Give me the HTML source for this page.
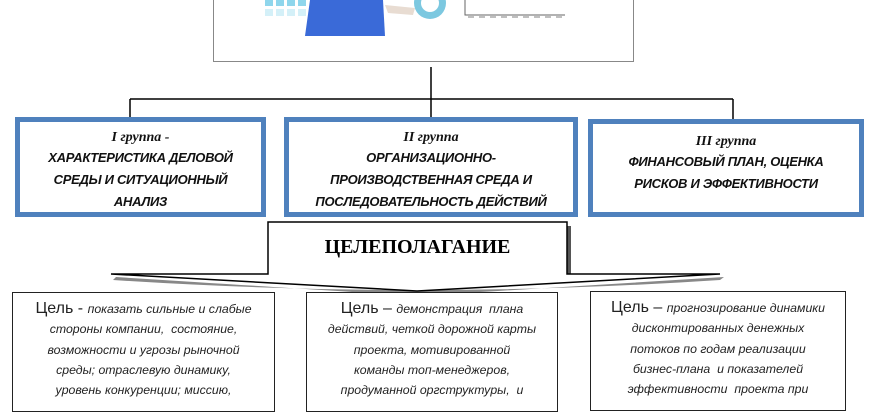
<!DOCTYPE html>
<html><head><meta charset="utf-8"><style>
body{margin:0;width:870px;height:400px;overflow:hidden;background:#fff;position:relative;font-family:"Liberation Sans",sans-serif}
.a{position:absolute;box-sizing:border-box}
.g{border:5px solid #4f81bd;background:#fff;text-align:center;color:#111}
.g .t{font-family:"Liberation Serif",serif;font-style:italic;font-weight:bold;font-size:14px;line-height:18px}
.g .b{font-style:italic;font-weight:bold;font-size:13px;line-height:22px;letter-spacing:-0.3px}
.c{border:1.5px solid #222;background:#fff;text-align:center;font-style:italic;font-size:12.3px;line-height:20.3px;color:#222;padding-top:6px;overflow:hidden}
.c span{font-style:normal;font-size:16px}
</style></head><body>
<div class="a" style="left:213px;top:-2px;width:421px;height:64px;border:1.5px solid #888"></div>
<svg class="a" style="left:0;top:0" width="870" height="400">
 <g fill="#8fd6ec"><rect x="265" y="0" width="8" height="6"/><rect x="276" y="0" width="8" height="6"/><rect x="287" y="0" width="8" height="6"/><rect x="298" y="0" width="8" height="6"/></g>
 <g fill="#d4f0f8"><rect x="265" y="9" width="8" height="7"/><rect x="276" y="9" width="8" height="7"/><rect x="287" y="9" width="8" height="7"/><rect x="298" y="9" width="8" height="7"/></g>
 <path d="M310,0 L383,0 L385,36 L305,36 Z" fill="#3a6ad8"/>
 <path d="M385,5 L415,8 L413,15 L388,13 Z" fill="#e8dcd2"/>
 <circle cx="430" cy="3" r="16" fill="#7cc8e0"/><circle cx="430" cy="3" r="9" fill="#fff"/>
 <path d="M465,0 V15 H565" fill="none" stroke="#666" stroke-width="1"/>
 <line x1="468" y1="17" x2="563" y2="17" stroke="#aaa" stroke-width="1.5" stroke-dasharray="6,5"/>
 <line x1="431" y1="67" x2="431" y2="117" stroke="#000" stroke-width="1.5"/>
 <line x1="130" y1="99" x2="733" y2="99" stroke="#000" stroke-width="1.5"/>
 <line x1="130" y1="99" x2="130" y2="117" stroke="#000" stroke-width="1.5"/>
 <line x1="733" y1="99" x2="733" y2="120" stroke="#000" stroke-width="1.5"/>
 <path d="M116,277 Q417,296 417,296 Q417,296 724,277 L720,280 Q420,300 113,280Z" fill="#888"/>
 <path d="M272,226 H571 V278 H272Z" fill="#555"/>
 <path d="M268,222 H567 V274 H720 Q560,283 417,291 Q270,283 111,274 H268 Z" fill="#fff" stroke="#000" stroke-width="1.5"/>
</svg>
<div class="a" style="left:268px;top:236px;width:299px;text-align:center;font-family:'Liberation Serif',serif;font-weight:bold;font-size:20px">ЦЕЛЕПОЛАГАНИЕ</div>
<div class="a g" style="left:15px;top:117px;width:251px;height:100px;padding-top:7px;overflow:hidden"><div class="t">I группа -</div><div class="b">ХАРАКТЕРИСТИКА ДЕЛОВОЙ<br>СРЕДЫ И СИТУАЦИОННЫЙ<br>АНАЛИЗ</div></div>
<div class="a g" style="left:284px;top:117px;width:294px;height:100px;padding-top:7px;overflow:hidden"><div class="t">II группа</div><div class="b">ОРГАНИЗАЦИОННО-<br>ПРОИЗВОДСТВЕННАЯ СРЕДА И<br>ПОСЛЕДОВАТЕЛЬНОСТЬ ДЕЙСТВИЙ</div></div>
<div class="a g" style="left:588px;top:119px;width:276px;height:98px;padding-top:9px"><div class="t">III группа</div><div class="b">ФИНАНСОВЫЙ ПЛАН, ОЦЕНКА<br>РИСКОВ И ЭФФЕКТИВНОСТИ</div></div>
<div class="a c" style="left:12px;top:292px;width:263px;height:120px"><span>Цель - </span> показать сильные и слабые<br>стороны компании,&nbsp; состояние,<br>возможности и угрозы рыночной<br>среды; отраслевую динамику,<br>уровень конкуренции; миссию,</div>
<div class="a c" style="left:306px;top:292px;width:252px;height:120px"><span>Цель – </span>демонстрация&nbsp; плана<br>действий, четкой дорожной карты<br>проекта, мотивированной<br>команды топ-менеджеров,<br>продуманной оргструктуры,&nbsp; и</div>
<div class="a c" style="left:590px;top:291px;width:256px;height:120px"><span>Цель – </span>прогнозирование динамики<br>дисконтированных денежных<br>потоков по годам реализации<br>бизнес-плана&nbsp; и показателей<br>эффективности&nbsp; проекта при</div>
</body></html>
